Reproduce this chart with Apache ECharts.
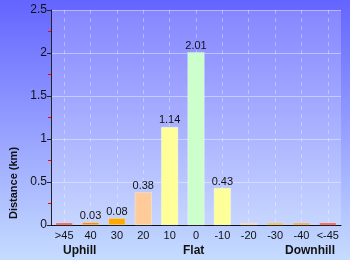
<!DOCTYPE html>
<html>
<head>
<meta charset="utf-8">
<script src="https://cdn.jsdelivr.net/npm/echarts@6/dist/echarts.min.js"></script>
<style>
  html, body { margin: 0; padding: 0; }
  #chart { width: 350px; height: 260px; }
</style>
</head>
<body>
<div id="chart"></div>
<script>
// gradient categories (%)
var categories = ['>45', '40', '30', '20', '10', '0', '-10', '-20', '-30', '-40', '<-45']
// distance in km
var distances = [0.01, 0.03, 0.08, 0.38, 1.14, 2.01, 0.43, 0.01, 0.01, 0.01, 0.01]
var barColors = ['#ff1a00', '#ff8800', '#ffaa00', '#ffcc99', '#ffff99', '#ccffcc',
                 '#ffff99', '#ffcc99', '#ffaa00', '#ff8800', '#ff1a00']
var yTicks = [0, 0.5, 1, 1.5, 2, 2.5]
var groupLabels = ['Uphill', 'Flat', 'Downhill']

var chart = echarts.init(document.getElementById('chart'))

var option = {
    animation: false,
    backgroundColor: new echarts.graphic.LinearGradient(0, 0, 0, 1, [
        { offset: 0, color: '#6464ff' },
        { offset: 1, color: '#c6dcff' }
    ]),
    textStyle: { fontFamily: 'Liberation Sans, Arial, sans-serif' },
    grid: {
        left: 51,
        right: 9,
        top: 10,
        bottom: 35,
        show: true,
        borderWidth: 0,
        backgroundColor: 'rgba(255,255,255,0.2)'
    },
    xAxis: {
        type: 'category',
        data: categories,
        axisLine: { lineStyle: { color: '#111', width: 1 } },
        axisTick: { alignWithLabel: true, length: 4, lineStyle: { color: '#111' } },
        axisLabel: { color: '#111', fontSize: 11, margin: 5, interval: 0 },
        splitLine: {
            show: true,
            alignWithLabel: true,
            interval: 0,
            lineStyle: { color: 'rgba(255,255,255,0.35)', type: [4, 4] }
        }
    },
    yAxis: {
        type: 'value',
        min: yTicks[0],
        max: yTicks[yTicks.length - 1],
        interval: 0.5,
        axisLine: { show: true, lineStyle: { color: '#222', width: 1 } },
        axisTick: { show: true, length: 4, lineStyle: { color: '#222' } },
        minorTick: { show: true, splitNumber: 2, length: 3, lineStyle: { color: '#ff0000' } },
        axisLabel: { color: '#111', fontSize: 12, margin: 4 },
        splitLine: { lineStyle: { color: 'rgba(255,255,255,0.4)', width: 1 } }
    },
    series: [{
        type: 'bar',
        data: distances.map(function (v, i) {
            return { value: v, itemStyle: { color: barColors[i] } }
        }),
        barWidth: 17,
        barMinHeight: 2,
        itemStyle: { borderColor: 'rgba(255,255,255,0.6)', borderWidth: 0.5 },
        label: {
            show: true,
            position: 'top',
            distance: 1,
            color: '#111',
            fontSize: 11,
            formatter: function (p) {
                return p.value >= 0.02 ? p.value.toFixed(2) : ''
            }
        }
    }],
    graphic: [
        // y axis title, sits low like the original
        {
            type: 'text', x: 14, y: 183, rotation: Math.PI / 2,
            style: { text: 'Distance (km)', font: 'bold 11px Liberation Sans', fill: '#111', align: 'center', verticalAlign: 'middle' }
        },
        { type: 'text', left: 63, top: 245, style: { text: groupLabels[0], font: 'bold 12px Liberation Sans', fill: '#111' } },
        { type: 'text', left: 183, top: 245, style: { text: groupLabels[1], font: 'bold 12px Liberation Sans', fill: '#111' } },
        { type: 'text', left: 285, top: 245, style: { text: groupLabels[2], font: 'bold 12px Liberation Sans', fill: '#111' } }
    ]
}

chart.setOption(option)
</script>
</body>
</html>
